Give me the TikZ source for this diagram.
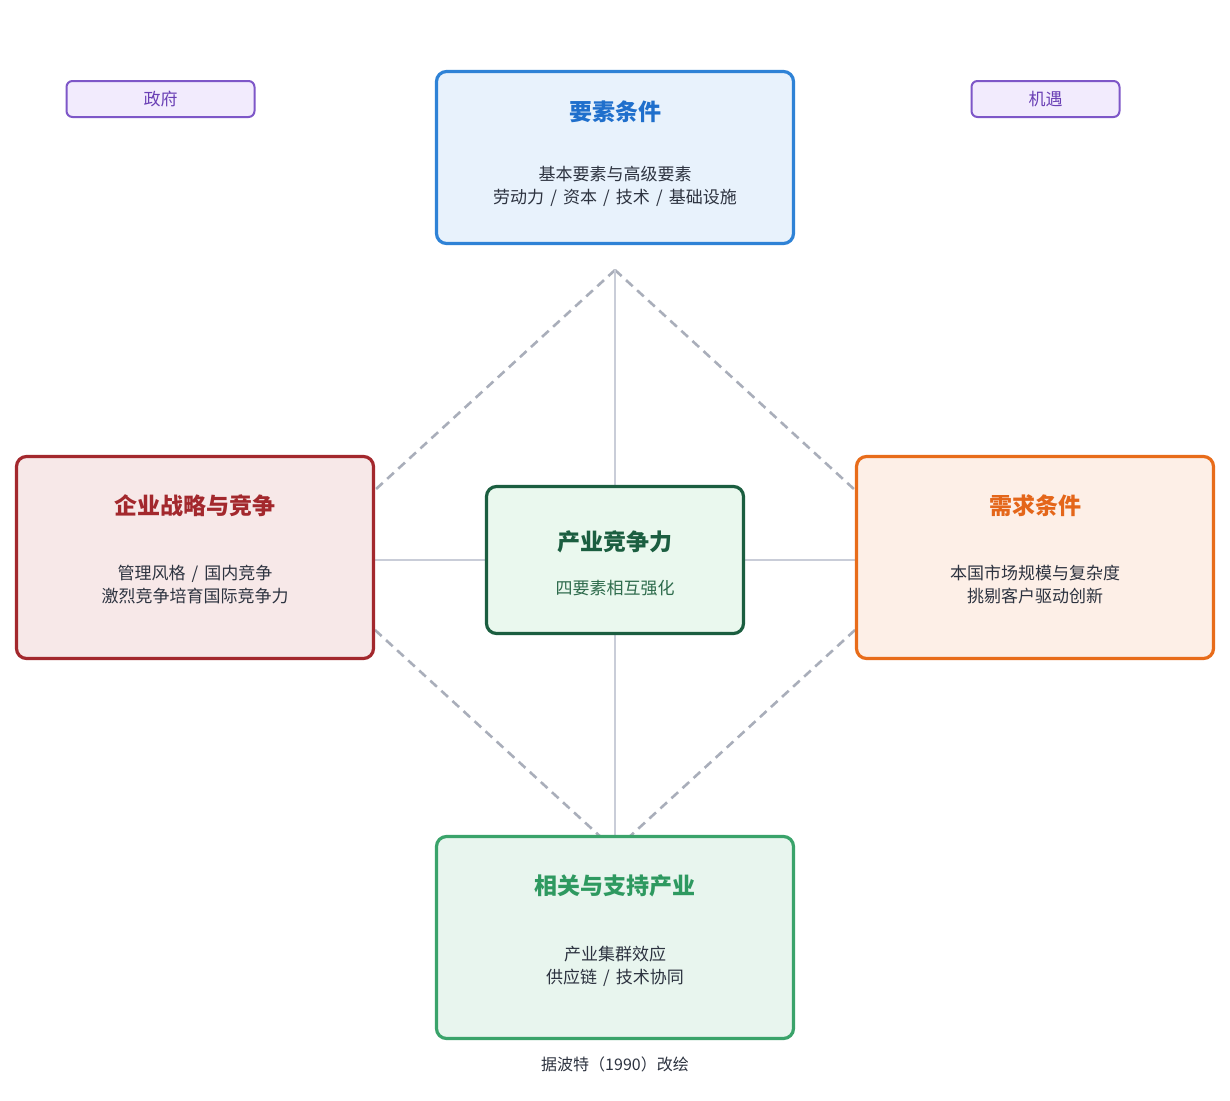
\documentclass[tikz,border=0pt]{standalone}
\usepackage{fontspec}
\setmainfont{Noto Sans CJK SC}
\usetikzlibrary{backgrounds}

\newcommand{\slashsep}{\hspace{0.36em}/\hspace{0.36em}}

\definecolor{bluebd}{HTML}{2E82D6}
\definecolor{bluefl}{HTML}{E8F2FC}
\definecolor{bluetx}{HTML}{1F6FCC}
\definecolor{redbd}{HTML}{A3282D}
\definecolor{redfl}{HTML}{F7E8E8}
\definecolor{redtx}{HTML}{A3282D}
\definecolor{dgreenbd}{HTML}{1B5E40}
\definecolor{dgreenfl}{HTML}{EAF8EE}
\definecolor{dgreentx}{HTML}{1B5E40}
\definecolor{dgreensub}{HTML}{2E6B4C}
\definecolor{orangebd}{HTML}{E86C1A}
\definecolor{orangefl}{HTML}{FDEFE7}
\definecolor{orangetx}{HTML}{E4661A}
\definecolor{greenbd}{HTML}{3AA36A}
\definecolor{greenfl}{HTML}{E8F5EE}
\definecolor{greentx}{HTML}{2E9960}
\definecolor{purplebd}{HTML}{7E57C8}
\definecolor{purplefl}{HTML}{F2EBFD}
\definecolor{purpletx}{HTML}{6A3FB5}
\definecolor{bodytx}{HTML}{2D3340}
\definecolor{solidln}{HTML}{C9CDD8}
\definecolor{dashln}{HTML}{A9AEBA}

\begin{document}
\begin{tikzpicture}[x=1pt,y=-1pt,
  panel/.style={draw, rounded corners=10pt, line width=3.2pt, inner sep=0pt},
  tag/.style={draw=purplebd, fill=purplefl, rounded corners=6pt, line width=2pt,
    minimum width=188pt, minimum height=36pt, inner sep=0pt,
    font=\fontsize{17}{19}\selectfont, text=purpletx},
  ttl/.style={font=\fontsize{23}{27}\selectfont\bfseries, inner sep=0pt},
  bodytxt/.style={font=\fontsize{17}{23}\selectfont, text=bodytx, align=center, inner sep=0pt},
  solidlink/.style={draw=solidln, line width=1.6pt},
  dashlink/.style={draw=dashln, line width=2.6pt, dash pattern=on 9pt off 6pt}]

\useasboundingbox (0,0) rectangle (1230,1100);

% the four determinants and the core
\node[panel, draw=bluebd, fill=bluefl, minimum width=357pt, minimum height=172pt] (factor) at (615,157.5) {};
\node[panel, draw=redbd, fill=redfl, minimum width=357pt, minimum height=202pt] (strategy) at (195,557.5) {};
\node[panel, draw=dgreenbd, fill=dgreenfl, minimum width=257pt, minimum height=147pt] (core) at (615,560) {};
\node[panel, draw=orangebd, fill=orangefl, minimum width=357pt, minimum height=202pt] (demand) at (1035,557.5) {};
\node[panel, draw=greenbd, fill=greenfl, minimum width=357pt, minimum height=202pt] (related) at (615,937.5) {};

% external influences
\node[tag] (gov) at (160.5,99) {政府};
\node[tag, minimum width=148pt] (chance) at (1045.5,99) {机遇};

% panel texts
\node[ttl, text=bluetx] (factorT) at (615,112) {要素条件};
\node[bodytxt] (factorB) at (615,186.5) {基本要素与高级要素\\劳动力\slashsep 资本\slashsep 技术\slashsep 基础设施};

\node[ttl, text=redtx] (strategyT) at (195,506) {企业战略与竞争};
\node[bodytxt] (strategyB) at (195,584.5) {管理风格\slashsep 国内竞争\\激烈竞争培育国际竞争力};

\node[ttl, text=dgreentx] (coreT) at (615,542) {产业竞争力};
\node[font=\fontsize{17}{19}\selectfont, text=dgreensub, inner sep=0pt] (coreB) at (615,588) {四要素相互强化};

\node[ttl, text=orangetx] (demandT) at (1035,506) {需求条件};
\node[bodytxt] (demandB) at (1035,584.5) {本国市场规模与复杂度\\挑剔客户驱动创新};

\node[ttl, text=greentx] (relatedT) at (615,886) {相关与支持产业};
\node[bodytxt] (relatedB) at (615,966.5) {产业集群效应\\供应链\slashsep 技术协同};

\node[font=\fontsize{16}{18}\selectfont, text=bodytx, inner sep=0pt] (source) at (615,1064) {据波特（1990）改绘};

% diamond frame and cross links, behind the panels
\coordinate (apex) at (615,270);
\coordinate (nadir) at (615,850);
\coordinate (lt) at (375,490);
\coordinate (lb) at (375,630);
\coordinate (rt) at (855,490);
\coordinate (rb) at (855,630);
\begin{pgfonlayer}{background}
  \fill[white] (0,0) rectangle (1230,1100);
  \draw[dashlink] (apex) -- (lt);
  \draw[dashlink] (apex) -- (rt);
  \draw[dashlink] (lb) -- (nadir);
  \draw[dashlink] (rb) -- (nadir);
  \draw[solidlink] (apex) -- (core.north);
  \draw[solidlink] (core.south) -- (related.north);
  \draw[solidlink] (strategy.east |- core.west) -- (core.west);
  \draw[solidlink] (core.east) -- (demand.west |- core.east);
\end{pgfonlayer}
\end{tikzpicture}
\end{document}
